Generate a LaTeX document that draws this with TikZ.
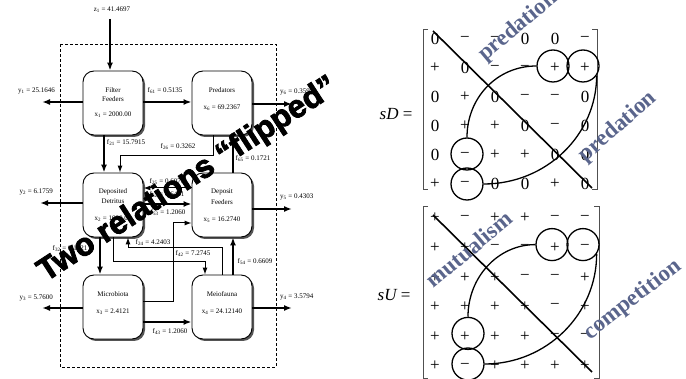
\documentclass[tikz,border=0pt]{standalone}
\usepackage{fontspec}
\setmainfont{Liberation Serif}
\newfontfamily\bannerfont{Liberation Sans}[FakeBold=2.5]
\newfontfamily\tagfont{Liberation Serif}
\usetikzlibrary{arrows.meta}
\definecolor{tagblue}{RGB}{90,101,140}
\definecolor{boxshadow}{RGB}{85,85,85}
\definecolor{brackgray}{RGB}{80,80,80}
\newcommand\lsub[1]{\textsubscript{#1}}
\tikzset{
  compbox/.style={draw, line width=0.9pt, rounded corners=11pt, fill=white,
    minimum width=60pt, minimum height=64pt, inner sep=0pt},
  boxshade/.style={fill=boxshadow, rounded corners=11pt},
  boxtext/.style={font=\fontsize{7}{8}\selectfont, inner sep=0pt},
  flowlabel/.style={font=\fontsize{7}{8}\selectfont, inner sep=0pt},
  flow/.style={line width=1.9pt, -{Latex[length=8pt,width=6pt]}},
  flowthin/.style={line width=1.0pt, -{Latex[length=7pt,width=5pt]}},
  boundary/.style={line width=0.9pt, dash pattern=on 3pt off 2pt},
  mentry/.style={font=\fontsize{17}{17}\selectfont, inner sep=0pt},
  ring/.style={draw, circle, line width=1.3pt, minimum size=32pt, inner sep=0pt},
  loopline/.style={line width=1.3pt},
  diagline/.style={line width=1.6pt},
  mbracket/.style={draw=brackgray, line width=0.9pt},
  reltag/.style={font=\tagfont\bfseries\fontsize{23}{23}\selectfont, text=tagblue, inner sep=0pt},
  bannertext/.style={font=\bannerfont\bfseries\fontsize{32}{32}\selectfont, inner sep=0pt},
  eqlabel/.style={font=\fontsize{17}{17}\selectfont, inner sep=0pt},
}
\begin{document}
\begin{tikzpicture}[x=1pt,y=-1pt]
\useasboundingbox (0,0) rectangle (686,379);

% ---------------- compartment flow network ----------------
\draw[boundary] (60,44) rectangle (276,367);

\foreach \nm/\cx/\cy in {ff/113/103, pr/222/103, dd/113/205, df/222/205, mb/113/307, mf/222/307} {
  \fill[boxshade] (\cx-28,\cy-30) rectangle (\cx+32,\cy+34);
  \node[compbox] (\nm) at (\cx,\cy) {};
}

\node[boxtext] (ff-a) at (113,90) {Filter};
\node[boxtext] (ff-b) at (113,99) {Feeders};
\node[boxtext] (ff-x) at (113,115) {x\lsub{1} = 2000.00};
\node[boxtext] (pr-a) at (222,90) {Predators};
\node[boxtext] (pr-x) at (222,108) {x\lsub{6} = 69.2367};
\node[boxtext] (dd-a) at (113,192) {Deposited};
\node[boxtext] (dd-b) at (113,201) {Detritus};
\node[boxtext] (dd-x) at (113,219) {x\lsub{2} = 1000.00};
\node[boxtext] (df-a) at (222,192) {Deposit};
\node[boxtext] (df-b) at (222,202) {Feeders};
\node[boxtext] (df-x) at (222,220) {x\lsub{5} = 16.2740};
\node[boxtext] (mb-a) at (113,294) {Microbiota};
\node[boxtext] (mb-x) at (113,312) {x\lsub{3} = 2.4121};
\node[boxtext] (mf-a) at (222,294) {Meiofauna};
\node[boxtext] (mf-x) at (222,312) {x\lsub{4} = 24.12140};

% imports and exports
\coordinate (zin) at (110,19);
\node[flowlabel] (z1-l) at (112,10) {z\lsub{1} = 41.4697};
\draw[flow] (zin) -- (ff.north -| zin);

\coordinate (y1out) at (42,102);
\coordinate (y2out) at (40,203);
\coordinate (y3out) at (42,308);
\coordinate (y6out) at (292,104);
\coordinate (y5out) at (292,209);
\coordinate (y4out) at (292,308);
\draw[flow] (ff.west |- y1out) -- (y1out);
\draw[flow] (dd.west |- y2out) -- (y2out);
\draw[flow] (mb.west |- y3out) -- (y3out);
\draw[flow] (pr.east |- y6out) -- (y6out);
\draw[flow] (df.east |- y5out) -- (y5out);
\draw[flow] (mf.east |- y4out) -- (y4out);
\node[flowlabel, anchor=east] (y1-l) at (55,91) {y\lsub{1} = 25.1646};
\node[flowlabel, anchor=east] (y2-l) at (53,192) {y\lsub{2} = 6.1759};
\node[flowlabel, anchor=east] (y3-l) at (53,298) {y\lsub{3} = 5.7600};
\node[flowlabel, anchor=west] (y6-l) at (280,92) {y\lsub{6} = 0.3594};
\node[flowlabel, anchor=west] (y5-l) at (280,197) {y\lsub{5} = 0.4303};
\node[flowlabel, anchor=west] (y4-l) at (280,297) {y\lsub{4} = 3.5794};

% internal flows
\draw[flow] (ff.east |- 0,102) -- (pr.west |- 0,102);
\node[flowlabel] (f61-l) at (165,91) {f\lsub{61} = 0.5135};
\draw[flow] (ff.south -| 104,0) -- (dd.north -| 104,0);
\node[flowlabel] (f21-l) at (126,143) {f\lsub{21} = 15.7915};
\draw[flowthin] (pr.south -| 213,0) |- (120,156) -- (dd.north -| 120,0);
\node[flowlabel] (f26-l) at (178,147) {f\lsub{26} = 0.3262};
\draw[flow] (df.north -| 233,0) -- (pr.south -| 233,0);
\node[flowlabel] (f65-l) at (253,159) {f\lsub{65} = 0.1721};
\draw[flowthin] (df.west |- 0,188) -- (dd.east |- 0,188);
\node[flowlabel] (f52-l) at (167,182) {f\lsub{25} = 0.6079};
\draw[flow] (dd.east |- 0,204) -- (df.west |- 0,204);
\node[flowlabel] (f25-l) at (167,195) {f\lsub{52} = 6.6431};
\draw[flowthin] (mb.east |- 0,302) -| (173,223) -- (df.west |- 0,223);
\node[flowlabel] (f53-l) at (168,213) {f\lsub{53} = 1.2060};
\draw[flow] (mb.east |- 0,322) -- (mf.west |- 0,322);
\node[flowlabel] (f43-l) at (170,332) {f\lsub{43} = 1.2060};
\draw[flow] (mf.north -| 233,0) -- (df.south -| 233,0);
\node[flowlabel] (f54-l) at (255,262) {f\lsub{54} = 0.6609};
\draw[flowthin] (dd.south -| 113,0) |- (205,262) -- (mf.north -| 205,0);
\node[flowlabel] (f42-l) at (193,254) {f\lsub{42} = 7.2745};
\draw[flowthin] (mf.north -| 222,0) |- (128,248) -- (dd.south -| 128,0);
\node[flowlabel] (f24-l) at (153,243) {f\lsub{24} = 4.2403};
\draw[flow] (dd.south -| 100,0) -- (mb.north -| 100,0);
\node[flowlabel] (f32-l) at (70,249) {f\lsub{32} = 8.1721};

% ---------------- sign matrices ----------------
\node[eqlabel] (sD-lab) at (396,114) {\itshape sD\upshape\ =};
\node[eqlabel] (sU-lab) at (394,295) {\itshape sU\upshape\ =};

\draw[mbracket] (428,29) -- (423,29) -- (423,189) -- (428,189);
\draw[mbracket] (592,29) -- (597,29) -- (597,189) -- (592,189);
\draw[mbracket] (428,206) -- (423,206) -- (423,378) -- (428,378);
\draw[mbracket] (594,206) -- (599,206) -- (599,378) -- (594,378);

\foreach \rw [count=\ri] in {{0,−,−,0,0,−},{+,0,−,−,+,+},{0,+,0,−,−,0},{0,+,+,0,−,0},{0,−,+,+,0,0},{+,−,0,0,+,0}} {
  \foreach \e [count=\ci] in \rw {
    \node[mentry] (sD-\ri-\ci) at ({405+30*\ci},{10+29*\ri}) {\e};
  }
}
\foreach \rw [count=\ri] in {{+,−,+,+,−,−},{+,+,−,−,+,−},{+,+,+,−,−,+},{+,+,+,+,−,+},{+,+,+,+,−,−},{+,−,+,+,+,+}} {
  \foreach \e [count=\ci] in \rw {
    \node[mentry] (sU-\ri-\ci) at ({405+30*\ci},{188.4+29.6*\ri}) {\e};
  }
}

% sD: diagonal, circled entries and the loop joining them
\coordinate (sD-ds) at (433,31);
\coordinate (sD-de) at (592,188);
\draw[diagline] (sD-ds) -- (sD-de);
\node[ring] (sD-c25) at ([xshift=-2pt,yshift=2pt]sD-2-5) {};
\node[ring] (sD-c26) at ([xshift=-2pt,yshift=2pt]sD-2-6) {};
\node[ring] (sD-c52) at ([xshift=2pt,yshift=1pt]sD-5-2) {};
\node[ring] (sD-c62) at ([xshift=2pt,yshift=0pt]sD-6-2) {};
\draw[loopline] (sD-c25.west) .. controls +(-40,0) and +(0,-39) .. (sD-c52.north);
\draw[loopline] (sD-c26.-35) .. controls +(0,59) and +(63,0) .. (sD-c62.east);

% sU: diagonal, circled entries and the loop joining them
\coordinate (sU-ds) at (433,215);
\coordinate (sU-de) at (592,372);
\draw[diagline] (sU-ds) -- (sU-de);
\node[ring] (sU-c25) at ([xshift=-3pt,yshift=3pt]sU-2-5) {};
\node[ring] (sU-c26) at ([xshift=-2pt,yshift=3pt]sU-2-6) {};
\node[ring] (sU-c52) at ([xshift=3pt,yshift=3pt]sU-5-2) {};
\node[ring] (sU-c62) at ([xshift=3pt,yshift=2pt]sU-6-2) {};
\draw[loopline] (sU-c25.west) .. controls +(-37,0) and +(0,-40) .. (sU-c52.north);
\draw[loopline] (sU-c26.-35) .. controls +(0,60) and +(62,0) .. (sU-c62.east);

% relation tags
\node[reltag, rotate=40] (tag-pred-a) at (518,27) {predation};
\node[reltag, rotate=41] (tag-pred-b) at (618,127) {predation};
\node[reltag, rotate=40] (tag-mut) at (469,249) {mutualism};
\node[reltag, rotate=38] (tag-comp) at (633,300) {competition};

% banner across the network
\node[bannertext, rotate=33] (banner) at (188,180) {Two relations “flipped”};
\end{tikzpicture}
\end{document}
